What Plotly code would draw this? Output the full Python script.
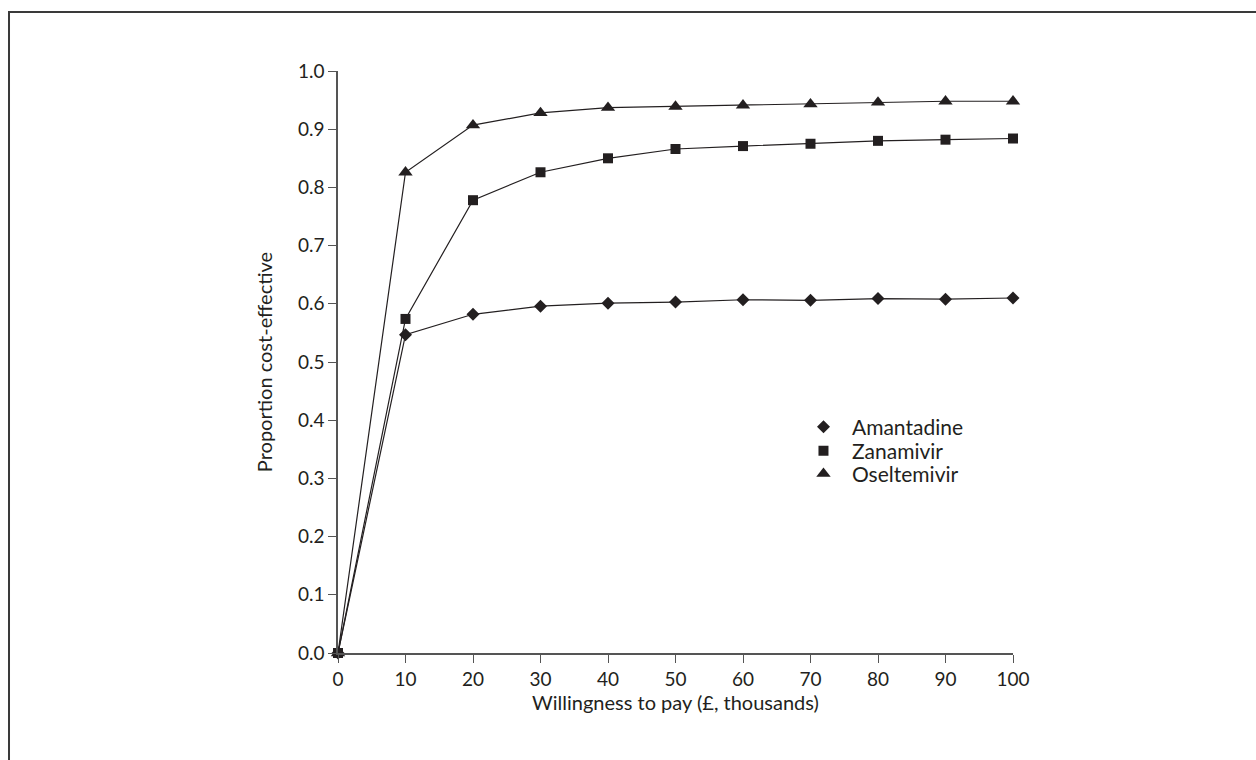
import plotly.graph_objects as go

wtp = [0, 10, 20, 30, 40, 50, 60, 70, 80, 90, 100]
amantadine = [0, 0.547, 0.582, 0.596, 0.601, 0.603, 0.607, 0.606, 0.609, 0.608, 0.610]
zanamivir = [0, 0.574, 0.778, 0.826, 0.850, 0.866, 0.871, 0.875, 0.880, 0.882, 0.884]
oseltemivir = [0, 0.826, 0.907, 0.928, 0.937, 0.939, 0.941, 0.943, 0.946, 0.948, 0.948]

x_ticks = [0, 10, 20, 30, 40, 50, 60, 70, 80, 90, 100]
y_ticks = [0.0, 0.1, 0.2, 0.3, 0.4, 0.5, 0.6, 0.7, 0.8, 0.9, 1.0]

ink = "#231f20"
font_family = "Lato, 'Open Sans', sans-serif"

fig = go.Figure()
series = [
    ("Amantadine", amantadine, "diamond", 10, "legend", 0.3883),
    ("Zanamivir", zanamivir, "square", 10, "legend2", 0.3471),
    ("Oseltemivir", oseltemivir, "triangle-up", 12.5, "legend3", 0.3076),
]
legends = {}
for name, vals, sym, size, leg, ly in series:
    fig.add_trace(go.Scatter(
        x=wtp, y=vals, name=name, mode="lines+markers",
        line=dict(color=ink, width=1.2),
        marker=dict(symbol=sym, size=size, color=ink, line=dict(width=0)),
        cliponaxis=False, showlegend=False,
    ))
    fig.add_trace(go.Scatter(
        x=[None], y=[None], name=name, mode="markers",
        marker=dict(symbol=sym, size=size, color=ink, line=dict(width=0)),
        showlegend=True, legend=leg, hoverinfo="skip",
    ))
    legends[leg] = dict(
        x=0.677, y=ly, xanchor="left", yanchor="middle",
        bgcolor="rgba(0,0,0,0)", font=dict(size=21, color=ink, family=font_family),
        itemwidth=47,
    )

fig.update_layout(
    width=1256, height=760,
    margin=dict(l=338, r=243, t=71, b=107),
    paper_bgcolor="white", plot_bgcolor="white",
    font=dict(family=font_family, size=19, color=ink),
    showlegend=True,
    **legends,
    xaxis=dict(
        range=[0, 100], tickvals=x_ticks, ticktext=[str(v) for v in x_ticks],
        showgrid=False, zeroline=False, showline=True, linecolor="#555555", linewidth=1.5,
        ticks="outside", ticklen=8, tickcolor="#555555", tickwidth=1.2,
        tickfont=dict(size=19),
        title=dict(text="Willingness to pay (£, thousands)", standoff=6, font=dict(size=20)),
    ),
    yaxis=dict(
        range=[0, 1], tickvals=y_ticks, ticktext=[f"{v:.1f}" for v in y_ticks],
        showgrid=False, zeroline=False, showline=True, linecolor="#555555", linewidth=1.5,
        ticks="outside", ticklen=8, tickcolor="#555555", tickwidth=1.2,
        tickfont=dict(size=19),
        title=dict(text="Proportion cost-effective", standoff=20, font=dict(size=20)),
    ),
    shapes=[dict(
        type="rect", xref="paper", yref="paper",
        x0=-0.4874, x1=1.6, y0=1.1014, y1=-0.4,
        line=dict(color="#3a3a3a", width=2), fillcolor="rgba(0,0,0,0)", layer="below",
    )],
)

fig.write_html("out.html")
